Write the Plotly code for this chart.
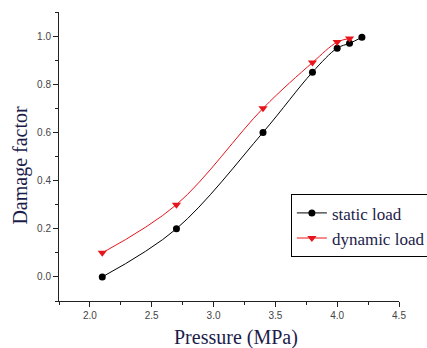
import plotly.graph_objects as go

static_x = [2.1, 2.7, 3.4, 3.8, 4.0, 4.1, 4.2]
static_y = [0.0, 0.2, 0.6, 0.85, 0.95, 0.97, 0.995]
dynamic_x = [2.1, 2.7, 3.4, 3.8, 4.0, 4.1]
dynamic_y = [0.1, 0.3, 0.7, 0.89, 0.975, 0.99]

x_ticks = [2.0, 2.5, 3.0, 3.5, 4.0, 4.5]
y_ticks = [0.0, 0.2, 0.4, 0.6, 0.8, 1.0]

x_title = "Pressure (MPa)"
y_title = "Damage factor"

SERIF = "Liberation Serif, Times New Roman, DejaVu Serif, serif"

fig = go.Figure()
fig.add_trace(go.Scatter(
    x=static_x, y=static_y, mode="lines+markers", name="static load",
    line=dict(color="black", width=1, shape="spline", smoothing=1.0),
    marker=dict(symbol="circle", size=7, color="black"),
))
fig.add_trace(go.Scatter(
    x=dynamic_x, y=dynamic_y, mode="lines+markers", name="dynamic load",
    line=dict(color="#e8141c", width=1, shape="spline", smoothing=1.0),
    marker=dict(symbol="triangle-down", size=8, color="#e8141c"),
))

text_col = "#1c1c4a"
fig.update_layout(
    width=427, height=348,
    margin=dict(l=59, r=28, t=12, b=47, autoexpand=False),
    paper_bgcolor="white", plot_bgcolor="white",
    showlegend=True,
    legend=dict(
        x=0.682, y=0.26, xanchor="left", yanchor="middle",
        bordercolor="black", borderwidth=1, bgcolor="white",
        font=dict(family=SERIF, size=17, color=text_col),
        tracegroupgap=0, itemwidth=30,
    ),
    xaxis=dict(
        range=[1.75, 4.5], tickvals=x_ticks, ticktext=[f"{v:.1f}" for v in x_ticks],
        showgrid=False, zeroline=False, showline=True, linecolor="#222", linewidth=1,
        ticks="outside", ticklen=5, tickcolor="#222", automargin=False,
        minor=dict(ticks="outside", ticklen=3, dtick=0.25, tick0=1.75, tickcolor="#222"),
        tickfont=dict(family="Arial", size=10, color="#444"),
    ),
    yaxis=dict(
        range=[-0.1, 1.1], tickvals=y_ticks, ticktext=[f"{v:.1f}" for v in y_ticks],
        showgrid=False, zeroline=False, showline=True, linecolor="#222", linewidth=1,
        ticks="outside", ticklen=5, tickcolor="#222", automargin=False,
        minor=dict(ticks="outside", ticklen=3, dtick=0.1, tick0=0.0, tickcolor="#222"),
        tickfont=dict(family="Arial", size=10, color="#444"),
    ),
    annotations=[
        dict(text=x_title, xref="paper", yref="paper", x=0.52, y=-0.1246,
             xanchor="center", yanchor="middle", showarrow=False,
             font=dict(family=SERIF, size=20, color=text_col)),
        dict(text=y_title, xref="paper", yref="paper", x=-0.1118, y=0.472,
             xanchor="center", yanchor="middle", showarrow=False, textangle=-90,
             font=dict(family=SERIF, size=20, color=text_col)),
    ],
)

fig.write_html(
    "out.html",
    config={"displayModeBar": False},
    post_script="document.body.style.margin='0';document.body.style.overflow='hidden';",
)
